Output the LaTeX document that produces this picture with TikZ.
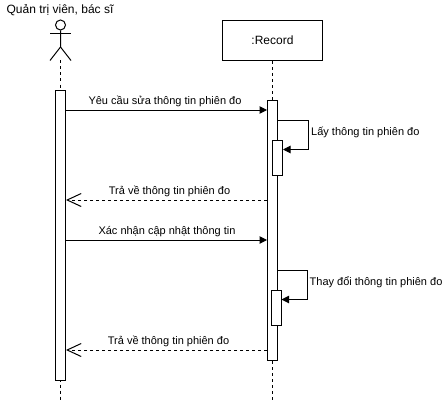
\documentclass[tikz,border=0pt]{standalone}
\usepackage{fontspec}
\setmainfont{Liberation Sans}
\usetikzlibrary{arrows.meta}
\tikzset{
  lbl/.style={inner sep=0pt,font=\fontsize{11}{13}\selectfont,text=black},
  biglbl/.style={inner sep=0pt,font=\fontsize{12}{14}\selectfont,text=black},
  lifebox/.style={draw=black,fill=white,line width=1pt,minimum width=100pt,minimum height=40pt,inner sep=0pt,font=\fontsize{12}{14}\selectfont},
  activation/.style={draw=black,fill=white,line width=1pt,minimum width=10pt,inner sep=0pt},
  lifeline/.style={line width=1pt,dash pattern=on 3pt off 3pt},
  msg/.style={line width=1pt,-{Triangle[length=7.5pt,width=7.5pt]}},
  reply/.style={line width=1pt,dash pattern=on 3pt off 3pt,-{Straight Barb[length=14pt,width=13pt,line width=1pt]}},
  actorline/.style={line width=1pt}
}
\begin{document}
\begin{tikzpicture}[x=1pt,y=-1pt]
\useasboundingbox[fill=white] (0,0) rectangle (443,401);
% actor
\coordinate (hip) at (60.5,47);
\coordinate (legL) at (50,60.5);
\coordinate (legR) at (71,60.5);
\coordinate (armL) at (50,33.5);
\coordinate (armR) at (71,33.5);
\coordinate (actorBottom) at (60.5,60.5);
\coordinate (leftEnd) at (60.5,400);
\coordinate (rightEnd) at (272.5,400);
\node[circle,draw=black,line width=1pt,minimum size=10pt,inner sep=0pt] (head) at (60.5,25) {};
\draw[actorline] (head.south) -- (hip) -- (legL);
\draw[actorline] (hip) -- (legR);
\draw[actorline] (armL) -- (armR);
\node[biglbl] (actorname) at (60,10) {Quản trị viên, bác sĩ};
% record
\node[lifebox] (record) at (272.5,40.5) {:Record};
% lifelines
\draw[lifeline] (actorBottom) -- (leftEnd);
\draw[lifeline] (record.south) -- (rightEnd);
% activations
\node[activation,minimum height=290pt] (actL) at (60.5,235.5) {};
\node[activation,minimum height=260pt] (actR) at (272.5,230.5) {};
\node[activation,minimum height=35pt] (sub1) at (277.5,157.5) {};
\node[activation,minimum height=35pt] (sub2) at (276,307.5) {};
% messages
\draw[msg] ([yshift=-20pt]actL.north east) -- ([yshift=-10pt]actR.north west);
\draw[reply] ([yshift=-100pt]actR.north west) -- ([yshift=-110pt]actL.north east);
\draw[msg] ([yshift=-150pt]actL.north east) -- ([yshift=-140pt]actR.north west);
\draw[reply] ([yshift=-250pt]actR.north west) -- ([yshift=-260pt]actL.north east);
% self messages
\draw[msg] ([yshift=-20pt]actR.north east) -| ([xshift=25.5pt,yshift=-10pt]sub1.north east) -- ([yshift=-10pt]sub1.north east);
\draw[msg] ([yshift=-170pt]actR.north east) -- ++(29.5pt,0) |- ([yshift=-10pt]sub2.north east);
% labels
\node[lbl] (m1) at (165,101) {Yêu cầu sửa thông tin phiên đo};
\node[lbl] (m2) at (169.5,191) {Trả về thông tin phiên đo};
\node[lbl] (m3) at (167,231.5) {Xác nhận cập nhật thông tin};
\node[lbl] (m4) at (168.5,341) {Trả về thông tin phiên đo};
\node[lbl,anchor=west] (s1) at (311,132.5) {Lấy thông tin phiên đo};
\node[lbl,anchor=west] (s2) at (309.5,282.5) {Thay đổi thông tin phiên đo};
\end{tikzpicture}
\end{document}
